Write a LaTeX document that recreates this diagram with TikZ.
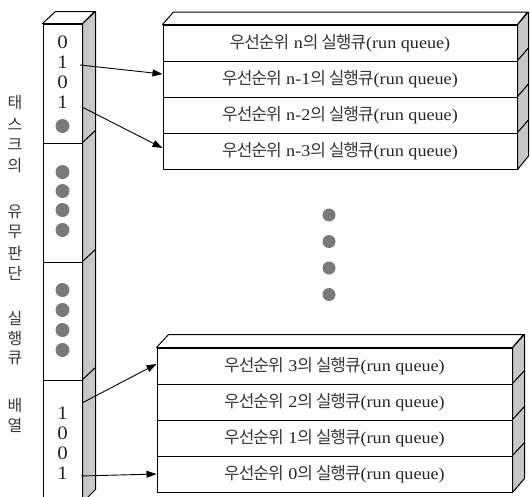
\documentclass[tikz,border=0pt]{standalone}
\usepackage{fontspec}
\usetikzlibrary{arrows.meta}
\setmainfont{Liberation Serif}
\newfontfamily\lat{Liberation Serif}[FakeStretch=1.1]
\newfontfamily\kr{Noto Sans CJK KR}[LetterSpace=-6]
\newfontfamily\krl{Noto Sans CJK KR}
\newcommand\rqlabel[1]{{\kr\fontsize{17}{20}\selectfont\color{black!78}우선순위} #1{\kr\fontsize{17}{20}\selectfont\color{black!78}의 실행큐}(run queue)}
\begin{document}
\begin{tikzpicture}[x=1pt,y=-1pt,
  qrow/.style={draw, line width=1pt, minimum width=354pt, minimum height=36pt, inner sep=0pt,
    font=\lat\fontsize{16.5}{18}\selectfont, text=black!85},
  colseg/.style={draw, line width=1pt, minimum width=39pt, inner sep=0pt},
  side/.style={fill=black!22, draw, line width=1pt, line join=round},
  topf/.style={fill=white, draw, line width=1pt, line join=round},
  dot/.style={circle, fill=black!52, inner sep=0pt, minimum size=14pt},
  bit/.style={font=\lat\fontsize{19}{22}\selectfont, text=black!85, inner sep=0pt},
  lbl/.style={font=\krl\fontsize{16}{18}\selectfont, text=black!78, inner sep=0pt},
  arr/.style={-{Triangle[length=10pt,width=7pt]}, line width=0.9pt},
]
\useasboundingbox (0,0) rectangle (530,496);
\clip (0,0) rectangle (530,496);

% ---- left column (bit array) ----
\node[colseg, minimum height=119pt] (c1) at (62.5,83.5) {};
\node[colseg, minimum height=119pt] (c2) at (62.5,202.5) {};
\node[colseg, minimum height=118pt] (c3) at (62.5,321) {};
\node[colseg, minimum height=122pt] (c4) at (62.5,441) {};
\foreach \c/\h in {c1/119,c2/119,c3/118,c4/122}{
  \draw[side] (\c.north east) -- ++(13,-12) -- ++(0,\h) -- (\c.south east) -- cycle;
}
\draw[topf] (c1.north west) -- ++(13,-12) -- ++(39,0) -- (c1.north east) -- cycle;

\node[bit] (b1) at (62.5,42) {0};
\node[bit] (b2) at (62.5,62) {1};
\node[bit] (b3) at (62.5,82) {0};
\node[bit] (b4) at (62.5,102) {1};
\node[dot] (d1) at (62.5,126) {};
\node[dot] (d2) at (62.5,172) {};
\node[dot] (d3) at (62.5,191) {};
\node[dot] (d4) at (62.5,210) {};
\node[dot] (d5) at (62.5,230) {};
\node[dot] (d6) at (62.5,290) {};
\node[dot] (d7) at (62.5,310) {};
\node[dot] (d8) at (62.5,330) {};
\node[dot] (d9) at (62.5,350) {};
\node[bit] (b5) at (62.5,413) {1};
\node[bit] (b6) at (62.5,433) {0};
\node[bit] (b7) at (62.5,453) {0};
\node[bit] (b8) at (62.5,473) {1};

% ---- vertical label ----
\foreach \ch/\yy in {태/103,스/124,크/145,의/166,유/212,무/232,판/253,단/273,실/318,행/338,큐/358,배/405,열/425}{
  \node[lbl] (l\yy) at (15,\yy) {\ch};
}

% ---- top run queues ----
\node[qrow] (qn)  at (340,43)  {\rqlabel{n}};
\node[qrow] (qn1) at (340,79)  {\rqlabel{n-1}};
\node[qrow] (qn2) at (340,115) {\rqlabel{n-2}};
\node[qrow] (qn3) at (340,151) {\rqlabel{n-3}};
\foreach \q in {qn,qn1,qn2,qn3}{
  \draw[side] (\q.north east) -- ++(11,-12.5) -- ++(0,36) -- (\q.south east) -- cycle;
}
\draw[topf] (qn.north west) -- ++(11,-12.5) -- ++(354,0) -- (qn.north east) -- cycle;

% ---- middle dots ----
\node[dot, minimum size=13pt] (m1) at (329,215) {};
\node[dot, minimum size=13pt] (m2) at (329,241.5) {};
\node[dot, minimum size=13pt] (m3) at (329,268) {};
\node[dot, minimum size=13pt] (m4) at (329,294.5) {};

% ---- bottom run queues ----
\node[qrow, minimum width=355pt] (q3) at (334.5,366) {\rqlabel{3}};
\node[qrow, minimum width=355pt] (q2) at (334.5,402) {\rqlabel{2}};
\node[qrow, minimum width=355pt] (q1) at (334.5,438) {\rqlabel{1}};
\node[qrow, minimum width=355pt] (q0) at (334.5,474) {\rqlabel{0}};
\foreach \q in {q3,q2,q1,q0}{
  \draw[side] (\q.north east) -- ++(12,-13) -- ++(0,36) -- (\q.south east) -- cycle;
}
\draw[topf] (q3.north west) -- ++(12,-13) -- ++(355,0) -- (q3.north east) -- cycle;

% ---- arrows ----
\coordinate (a1) at (80,65);
\coordinate (a2) at (82,107);
\coordinate (a3) at (82,403);
\coordinate (a4) at (81,476);
\draw[arr] (a1) -- ([yshift=5pt]qn1.west);
\draw[arr] (a2) -- ([yshift=3pt]qn3.west);
\draw[arr] (a3) -- ([yshift=2pt]q3.west);
\draw[arr] (a4) -- (q0.west);
\end{tikzpicture}
\end{document}
